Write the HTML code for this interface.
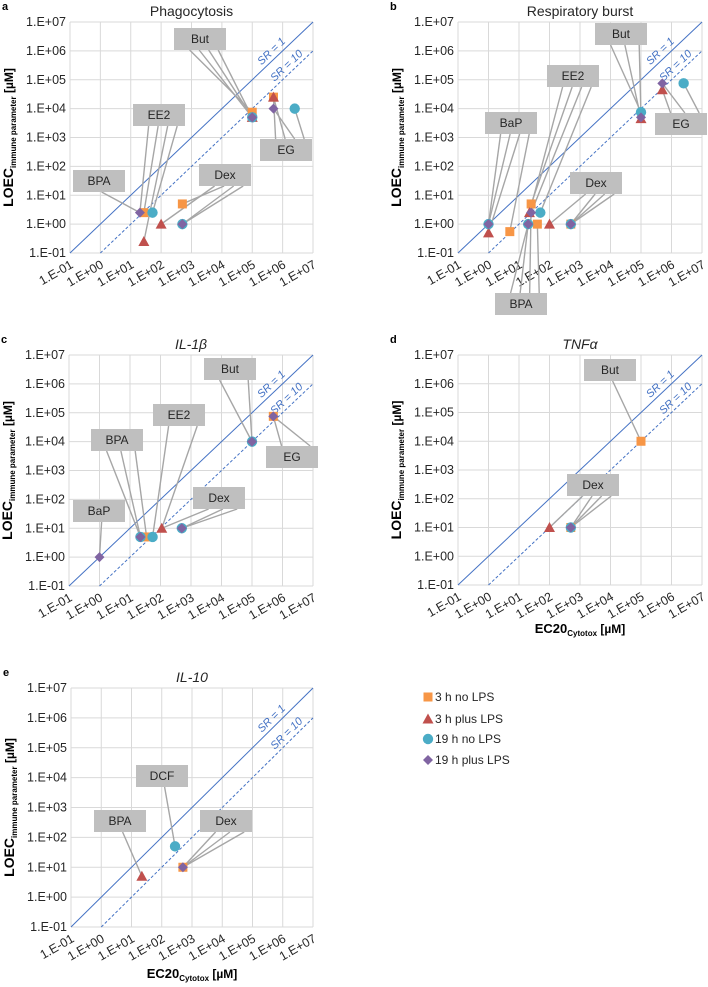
<!DOCTYPE html>
<html><head><meta charset="utf-8"><style>
html,body{margin:0;padding:0;background:#fff;}
svg{display:block;font-family:"Liberation Sans",sans-serif;}
</style></head><body>
<svg id="fig" width="708" height="987" viewBox="0 0 708 987" xmlns="http://www.w3.org/2000/svg"></svg>
<script>
// ---- data (x = EC20 cytotox µM, y = LOEC µM, s = series index) ----
const seriesNames = ["3 h no LPS","3 h plus LPS","19 h no LPS","19 h plus LPS"];
const tickExps = [-1,0,1,2,3,4,5,6,7];
const tickLabels = ["1.E-01","1.E+00","1.E+01","1.E+02","1.E+03","1.E+04","1.E+05","1.E+06","1.E+07"];

const aX = [20,27,27,52,100,500,500,500,1e5,1e5,1e5,1e5,5e5,5e5,5e5,2.5e6];
const aY = [2.5,2.5,0.25,2.5,1,5,1,1,7500,5000,5000,5000,25000,25000,10000,10000];
const aS = [3,0,1,2,1,0,2,3,0,1,2,3,0,1,3,2];

const bX = [1,1,1,5,25,22,25,50,20,20,40,100,500,500,500,1e5,1e5,1e5,5e5,5e5,2.5e6];
const bY = [1,1,0.5,0.55,5,2.5,2.5,2.5,1,1,1,1,1,1,1,7500,4500,5000,45000,75000,75000];
const bS = [2,3,1,0,0,1,3,2,2,3,0,1,0,2,3,2,1,3,1,3,2];

const cX = [1,22,22,35,55,110,500,500,1e5,1e5,5e5,5e5];
const cY = [1,5,5,5,5,10,10,10,1e4,1e4,75000,75000];
const cS = [3,2,3,0,2,1,2,3,2,3,0,3];

const dX = [1e5,100,500,500,500];
const dY = [1e4,10,10,10,10];
const dS = [0,1,0,2,3];

const eX = [22,275,500,500];
const eY = [5,50,10,10];
const eS = [1,2,0,3];

const panels = [
 {id:"a",title:"Phagocytosis",italic:false,x0:70,x1:313,y0:22,y1:253,X:aX,Y:aY,S:aS,xtitle:false,
  labels:[["BPA",73,170,"b",[0]],["EE2",133,104,"b",[0,1,2,3]],["But",174,28,"b",[8,9,10,11]],["Dex",199,164,"b",[4,5,6,7]],["EG",260,139,"t",[12,13,14,15]]]},
 {id:"b",title:"Respiratory burst",italic:false,x0:458,x1:702,y0:22,y1:253,X:bX,Y:bY,S:bS,xtitle:false,
  labels:[["BaP",485,112,"b",[0,1,2,3]],["EE2",547,65,"b",[5,4,6,7]],["BPA",495,293,"t",[8,9,4,10]],["Dex",570,172,"b",[11,12,13,14]],["But",595,23,"b",[15,16,17]],["EG",655,113,"t",[18,19,20]]]},
 {id:"c",title:"IL-1β",italic:true,x0:69,x1:313,y0:355,y1:586,X:cX,Y:cY,S:cS,xtitle:false,
  labels:[["BaP",73,500,"b",[0]],["BPA",91,429,"b",[1,2,3]],["EE2",153,404,"b",[4,5]],["Dex",193,487,"b",[5,6,7]],["But",204,358,"b",[8,9]],["EG",266,446,"t",[10,11]]]},
 {id:"d",title:"TNFα",italic:true,x0:458,x1:702,y0:355,y1:585,X:dX,Y:dY,S:dS,xtitle:true,xty:633,
  labels:[["But",584,359,"b",[0]],["Dex",567,474,"b",[1,2,3,4]]]},
 {id:"e",title:"IL-10",italic:true,x0:71,x1:313,y0:688,y1:927,X:eX,Y:eY,S:eS,xtitle:true,xty:978,
  labels:[["BPA",94,810,"b",[0]],["DCF",136,765,"b",[1]],["Dex",200,810,"b",[2,3,2]]]}
];

const NS="http://www.w3.org/2000/svg";
const svg=document.getElementById("fig");
const colors=["#F79646","#C0504D","#4BACC6","#8064A2"];
function mk(tag,attrs,parent){const e=document.createElementNS(NS,tag);for(const k in attrs)e.setAttribute(k,attrs[k]);(parent||svg).appendChild(e);return e;}

function marker(g,s,x,y){
  let e;
  if(s===0){e=mk("rect",{x:x-4.5,y:y-4.5,width:9,height:9,fill:colors[0]},g);}
  else if(s===1){e=mk("polygon",{points:`${x},${y-5.5} ${x+5.5},${y+4.5} ${x-5.5},${y+4.5}`,fill:colors[1]},g);}
  else if(s===2){e=mk("circle",{cx:x,cy:y,r:5.2,fill:colors[2]},g);}
  else {e=mk("polygon",{points:`${x},${y-5} ${x+5},${y} ${x},${y+5} ${x-5},${y}`,fill:colors[3]},g);}
  return e;
}

panels.forEach(p=>{
  const sx=v=>p.x0+(Math.log10(v)+1)/8*(p.x1-p.x0);
  const sy=v=>p.y1-(Math.log10(v)+1)/8*(p.y1-p.y0);
  const g=mk("g",{});
  
  
  const L=mk("text",{x:p.x0-68,y:p.y0-12,"font-size":11,"font-weight":"bold",fill:"#000"},g);
  L.textContent=p.id;
  
  
  const T=mk("text",{x:(p.x0+p.x1)/2,y:p.y0-6,"font-size":14,"text-anchor":"middle",fill:"#262626","font-style":p.italic?"italic":"normal"},g);
  T.textContent=p.title;
  
  
  tickExps.forEach((ex,i)=>{
    const v=Math.pow(10,ex);
    const gx=mk("line",{x1:sx(v),x2:sx(v),y1:p.y0,y2:p.y1,stroke:"#d9d9d9","stroke-width":1},g);
    
    
    const gy=mk("line",{x1:p.x0,x2:p.x1,y1:sy(v),y2:sy(v),stroke:"#d9d9d9","stroke-width":1},g);
    
    
    const yt=mk("text",{x:p.x0-4,y:sy(v)+4,"font-size":12.5,"text-anchor":"end",fill:"#262626"},g);
    yt.textContent=tickLabels[i];
    
    
    const xt=mk("text",{x:0,y:0,"font-size":12.5,"text-anchor":"end",fill:"#262626",transform:`translate(${sx(v)+4},${p.y1+14}) rotate(-30)`},g);
    xt.textContent=tickLabels[i];
    
    
  });
  const cy=(p.y0+p.y1)/2;
  const yT=mk("text",{x:0,y:0,"text-anchor":"middle","font-weight":"bold",fill:"#000",transform:`translate(${p.x0-57},${cy}) rotate(-90)`},g);
  
  
  yT.innerHTML='<tspan font-size="14">LOEC</tspan><tspan font-size="8" dy="3">immune parameter</tspan><tspan font-size="12" dy="-3"> [µM]</tspan>';
  if(p.xtitle){
    const xT=mk("text",{x:(p.x0+p.x1)/2,y:p.xty,"text-anchor":"middle","font-weight":"bold",fill:"#000"},g);
    
    
    xT.innerHTML='<tspan font-size="13">EC20</tspan><tspan font-size="8" dy="3">Cytotox</tspan><tspan font-size="12" dy="-3"> [µM]</tspan>';
  }
  const l1=mk("line",{x1:sx(0.1),y1:sy(0.1),x2:sx(1e7),y2:sy(1e7),stroke:"#4472C4","stroke-width":1},g);
  
  
  const l2=mk("line",{x1:sx(1),y1:sy(0.1),x2:sx(1e7),y2:sy(1e6),stroke:"#4472C4","stroke-width":1,"stroke-dasharray":"3,2"},g);
  
  
  const ang=-Math.atan2(p.y1-p.y0,p.x1-p.x0)*180/Math.PI;
  [[Math.pow(10,5.8),1,"SR = 1"],[Math.pow(10,6.3),10,"SR = 10"]].forEach(([xv,r,txt])=>{
    const t=mk("text",{x:0,y:-4,"font-size":11,"font-style":"italic","text-anchor":"middle",fill:"#4472C4",transform:`translate(${sx(xv)},${sy(xv/r)}) rotate(${ang})`},g);
    t.textContent=txt;
    
    
  });
  p.labels.forEach(([name,bx,by,edge,tg])=>{
    const w=52,h=22;
    const n=tg.length;
    tg.forEach((idx,k)=>{
      const ax=n===1?bx+w*0.55:bx+w*0.3+k*(w*0.55)/(n-1);
      const ay=edge==="b"?by+h:by;
      const ln=mk("line",{x1:ax,y1:ay,x2:sx(p.X[idx]),y2:sy(p.Y[idx]),stroke:"#a6a6a6","stroke-width":1.4},g);
      
      
    });
    const r=mk("rect",{x:bx,y:by,width:w,height:h,fill:"#bfbfbf"},g);
    
    
    const t=mk("text",{x:bx+w/2,y:by+15,"font-size":12,"text-anchor":"middle",fill:"#262626"},g);
    t.textContent=name;
    
    
  });
  [0,1,2,3].forEach(s=>{
    p.X.forEach((xv,i)=>{
      if(p.S[i]!==s)return;
      const m=marker(g,s,sx(xv),sy(p.Y[i]));
      
      
    });
  });
});

const lg=mk("g",{});


const legendY=[697,719,739,760];
seriesNames.forEach((nm,i)=>{
  const m=marker(lg,i,428,legendY[i]);
  
  
  const t=mk("text",{x:435,y:legendY[i]+4,"font-size":12,fill:"#262626"},lg);
  t.textContent=nm;
  
  
});
</script>
</body></html>
